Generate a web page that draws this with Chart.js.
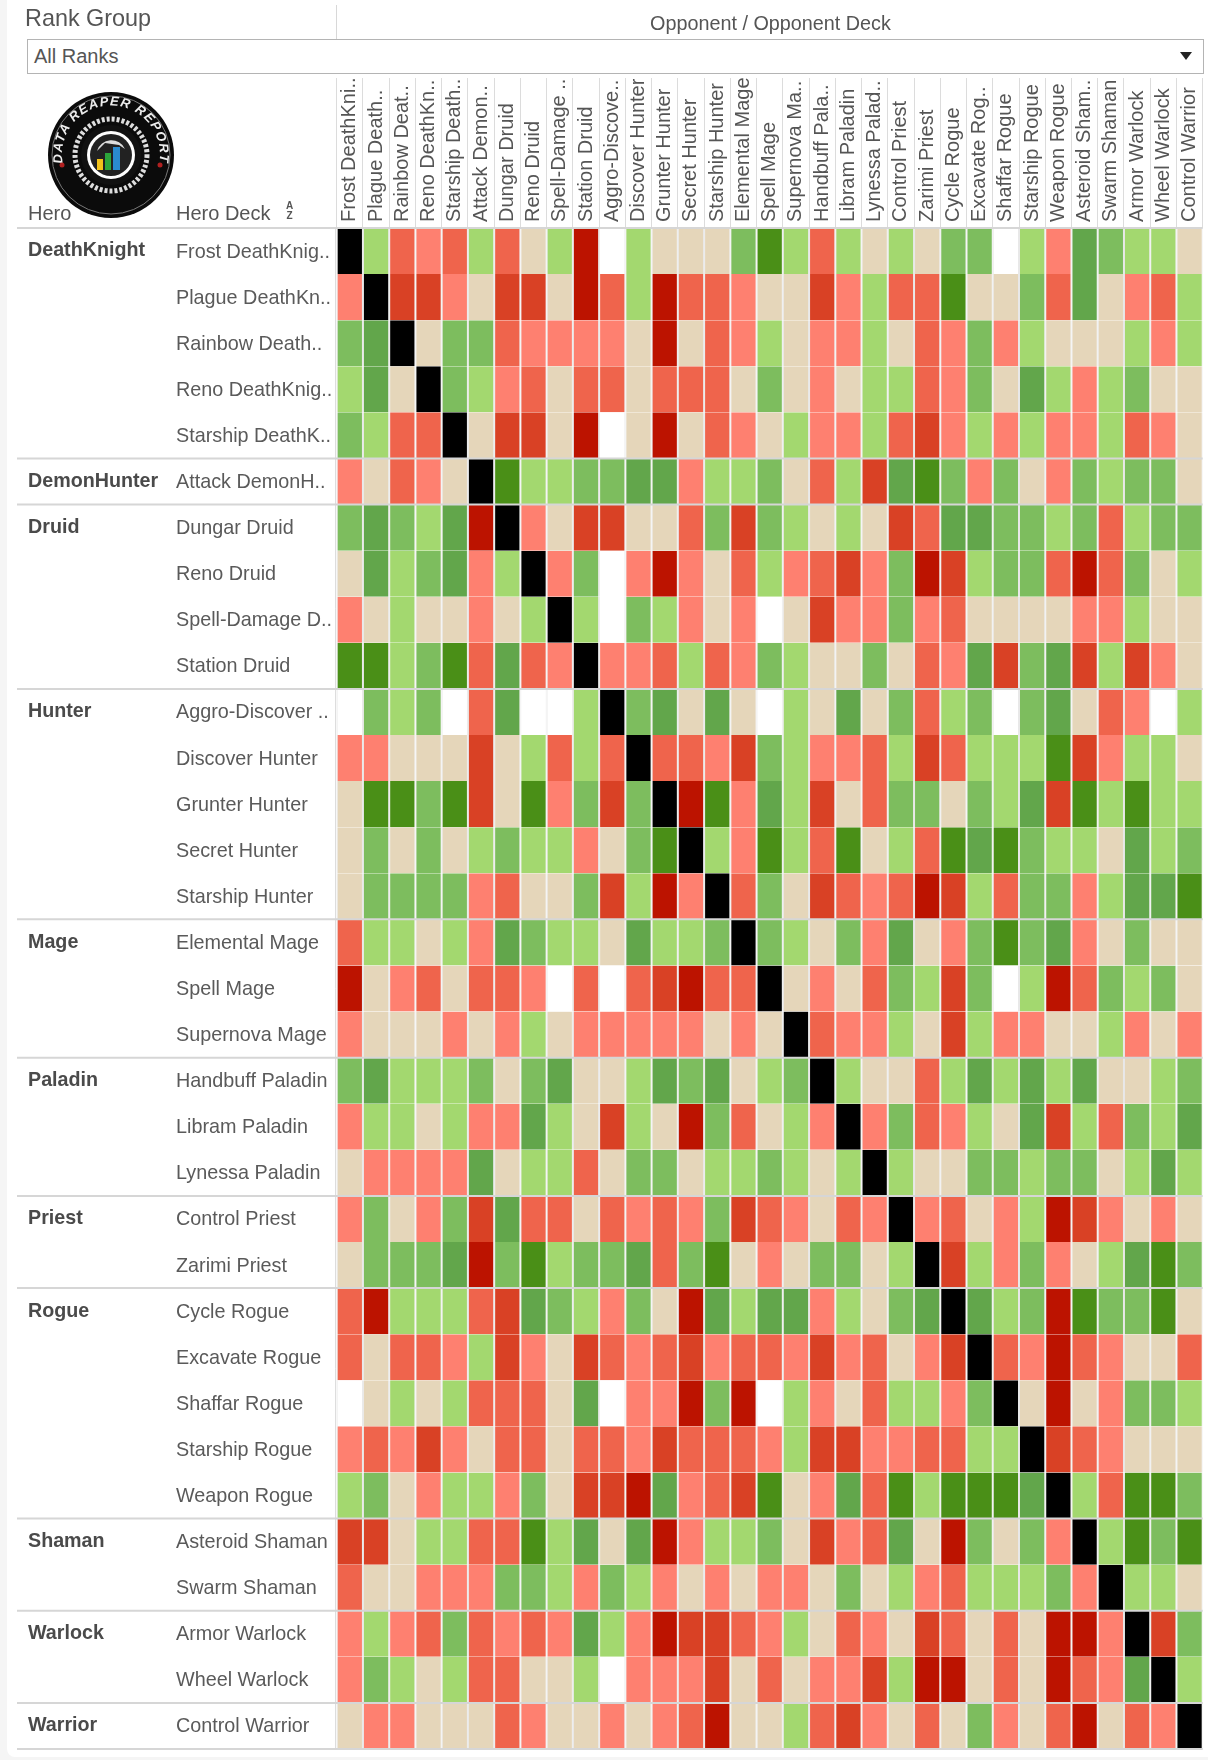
<!DOCTYPE html>
<html><head><meta charset="utf-8">
<style>
html,body{margin:0;padding:0;background:#f5f5f5;}
#card{position:absolute;left:7px;top:0;width:1201px;height:1757px;background:#fff;border-bottom-left-radius:8px;}
#c{position:absolute;left:0;top:0;}
.t{position:absolute;font-family:"Liberation Sans",Arial,sans-serif;color:#555;white-space:nowrap;}
#box{position:absolute;left:27px;top:39px;width:1175px;height:33px;border:1px solid #b4b4b4;background:#fff;box-sizing:content-box;}
#vline{position:absolute;left:336px;top:5px;width:1px;height:34px;background:#d8d8d8;}
#arrow{position:absolute;left:1180px;top:52px;width:0;height:0;border-left:6px solid transparent;border-right:6px solid transparent;border-top:8px solid #222;}
#logo{position:absolute;left:47px;top:91px;}
</style></head><body>
<div id="card"></div>
<canvas id="c" width="1208" height="1760"></canvas>
<div id="vline"></div>
<div class="t" style="left:25px;top:5px;font-size:23.4px;">Rank Group</div>
<div class="t" style="left:650px;top:12px;font-size:19.8px;">Opponent / Opponent Deck</div>
<div id="box"></div>
<div class="t" style="left:34px;top:45px;font-size:20px;">All Ranks</div>
<div id="arrow"></div>
<svg id="logo" width="128" height="128" viewBox="0 0 128 128">
  <defs><path id="arcTop" d="M 21 87 A 49 49 0 1 1 107 87"/></defs>
  <circle cx="64" cy="64" r="63" fill="#0b0b0b"/>
  <circle cx="64" cy="64" r="59" fill="none" stroke="#777" stroke-width="1"/>
  <text font-family="Liberation Sans" font-weight="bold" font-style="italic" font-size="13" fill="#eee" letter-spacing="1.2"><textPath href="#arcTop" startOffset="50%" text-anchor="middle">DATA REAPER REPORT</textPath></text>
  <circle cx="64" cy="64" r="36" fill="none" stroke="#ddd" stroke-width="5" stroke-dasharray="3 2"/>
  <circle cx="64" cy="64" r="30" fill="#111"/>
  <circle cx="64" cy="64" r="24" fill="#fff"/>
  <circle cx="64" cy="64" r="21" fill="#222"/>
  <path d="M 50 60 A 15 15 0 0 1 78 58 L 72 54 L 58 52 Z" fill="#ddd"/>
  <rect x="50" y="68" width="6" height="11" fill="#f2c21a"/>
  <rect x="58" y="62" width="6" height="17" fill="#2ca53a"/>
  <rect x="66" y="56" width="7" height="23" fill="#2a8bd0"/>
  <circle cx="15" cy="74" r="2.5" fill="#b02020"/><circle cx="113" cy="74" r="2.5" fill="#b02020"/>
</svg>
<div class="t" style="left:28px;top:202px;font-size:20px;">Hero</div>
<div class="t" style="left:176px;top:202px;font-size:20px;">Hero Deck</div>
<div class="t" style="left:286px;top:201px;font-size:10px;font-weight:bold;line-height:10px;text-align:center;">A<br>Z</div>
<script src="https://cdn.jsdelivr.net/npm/chart.js@4/dist/chart.umd.js"></script>
<script>
const opponentLabels = ["Frost DeathKni..","Plague Death..","Rainbow Deat..","Reno DeathKn..","Starship Death..","Attack Demon..","Dungar Druid","Reno Druid","Spell-Damage ..","Station Druid","Aggro-Discove..","Discover Hunter","Grunter Hunter","Secret Hunter","Starship Hunter","Elemental Mage","Spell Mage","Supernova Ma..","Handbuff Pala..","Libram Paladin","Lynessa Palad..","Control Priest","Zarimi Priest","Cycle Rogue","Excavate Rog..","Shaffar Rogue","Starship Rogue","Weapon Rogue","Asteroid Sham..","Swarm Shaman","Armor Warlock","Wheel Warlock","Control Warrior"];
const deckLabels = ["Frost DeathKnig..","Plague DeathKn..","Rainbow Death..","Reno DeathKnig..","Starship DeathK..","Attack DemonH..","Dungar Druid","Reno Druid","Spell-Damage D..","Station Druid","Aggro-Discover ..","Discover Hunter","Grunter Hunter","Secret Hunter","Starship Hunter","Elemental Mage","Spell Mage","Supernova Mage","Handbuff Paladin","Libram Paladin","Lynessa Paladin","Control Priest","Zarimi Priest","Cycle Rogue","Excavate Rogue","Shaffar Rogue","Starship Rogue","Weapon Rogue","Asteroid Shaman","Swarm Shaman","Armor Warlock","Wheel Warlock","Control Warrior"];
const heroLabels = ["DeathKnight","","","","","DemonHunter","Druid","","","","Hunter","","","","","Mage","","","Paladin","","","Priest","","Rogue","","","","","Shaman","","Warlock","","Warrior"];
// Matchup class per cell, row = hero deck, position = opponent deck.
// A..D favourable (strong to slight), E even, F..I unfavourable (slight to strong), X mirror, W no data.
const matchupRows = [
"XDGFGDGEDIWDEEECADGDEDECCWDFBCDDE",
"FXHHFEHHEIGDIGGFEEHFDGGAEECGBEFGD",
"CBXECCGFFFFEIEGFDEFFDEGFCFDEEEDFD",
"DBEXCDFGEGGEGGGECEFEDDGFCEBDFDCEE",
"CDGGXEHHEIWEIEGFEDFFDGHFDFDFFDGFE",
"FEGFEXADDCCBBFDDCEGDHBACFCEFCDCCE",
"CBCDBIXFEHHEEGCHCDEDEHGBBCCDCGDCC",
"EBDCBFDXFCWFIFEGDFGHFCIHDCCGIGCED",
"FEDEEFEDXDWCDFEFWEHFFCFGEEEEFFDEE",
"AADCAGBGFXFFGDGFCDEECEGFBHCBHDHFE",
"WCDCWGBWWDXCBEBEWDEBECGDCWCBEGFWD",
"FFEEEHEDGDGXGGFHCDFFGDHGDDDAHFDDE",
"EAACAHEAFCHCXIAFBDHEGCCECDBHADADD",
"ECECEDCDDFECAXDFADGAEDGABACDDEBDC",
"ECCCCFGEECHDIFXGCEHGFGIHDGCCFDBBA",
"GDDEDFBCDDEBDDCXCDECFBEFCACBFECEE",
"IEFGEGGFWGWGHIGGXEFEGCDHCWDIGCDCE",
"FEEEFEFDEFFFFFEFEXGFFDEHDFFEEDFEF",
"CBDDDCECBEEDBCBEDCXDEEGDBDBDBEEDC",
"FDDEDFFBDEHDEICGEDFXFCGFDEBHDGCDB",
"EFFFFBEDDGECCEDDCDEDXDEECCDCCEDBD",
"FCEFCHBGGEGFGFCHGFEGFXFGEFDIHFEFE",
"ECCCBICADCCBGCAEFECCEDXHDFCFEDBAC",
"GIDDDGHBCDFCEIBDBBFDECBXBDCIACCAE",
"GEGGFDHFEHGFGHFGGFHFGEFHXGFIGFEEG",
"WEDEDGGGEBWFFICIWDFEGDDFCXEIEFCCD",
"FGFHFEGGEGGFHGGGFDHHFFGGDDXHGFEEE",
"DCEFDDFCEHHIBFGHAEFBGADAAABXDGAAC",
"HHEDDGGADBEBIFDDCEHFGBEICECFXDACA",
"GEEFFFCCDFCDFEFEFFECEDFGDDDCFXDDE",
"FDFGCGFGFBDFIHHGFDEGFEHGEGEIIFXHC",
"FCDEDGGEEDWFFFHEGEFFHDIIEGEIGFBXD",
"EFFEEEGFEEFEFGIEEDGHFEGECFEGIEGFX"
];
const levelColors = {A:"#4a8f17",B:"#62a64b",C:"#7dbd5e",D:"#a3d86f",E:"#e5d6ba",F:"#fe8070",G:"#ef644c",H:"#d94125",I:"#bc1300",X:"#000000",W:"#ffffff"};
const groupStarts = [0,5,6,10,15,18,21,23,28,30,32,33];

const fontFamily = '"Liberation Sans", Arial, sans-serif';
const datasets = matchupRows.map((row,i)=>({
  label: deckLabels[i],
  data: opponentLabels.map(()=>1),
  backgroundColor: row.split('').map(c=>levelColors[c]),
  borderColor: '#e8e8e8',
  borderWidth: {left:1,right:1,top:0,bottom:0},
  borderSkipped: false,
  inflateAmount: 0,
  barPercentage: 1,
  categoryPercentage: 1,
  stack: 's'
}));

const separators = {
  id:'separators',
  afterDatasetsDraw(chart){
    const {ctx,scales:{y},chartArea:a} = chart;
    ctx.save();
    ctx.strokeStyle='#d6d6d6';
    ctx.lineWidth=2;
    groupStarts.forEach(g=>{
      const py=y.getPixelForValue(g);
      ctx.beginPath();ctx.moveTo(17,py);ctx.lineTo(a.right,py);ctx.stroke();
    });
    ctx.lineWidth=1;
    ctx.beginPath();ctx.moveTo(a.left-1,a.top);ctx.lineTo(a.left-1,a.bottom);ctx.stroke();
    ctx.restore();
  }
};
function noVerticalOverflow(s){s.paddingTop=0;s.paddingBottom=0;}

new Chart(document.getElementById('c'),{
  type:'bar',
  data:{labels:opponentLabels,datasets},
  plugins:[separators],
  options:{
    responsive:false,animation:false,
    layout:{padding:{left:28,right:5.3,top:0,bottom:11}},
    plugins:{legend:{display:false},tooltip:{enabled:false}},
    scales:{
      x:{type:'category',position:'top',offset:true,
         grid:{display:true,offset:true,drawOnChartArea:false,tickLength:150,color:'#dcdcdc',lineWidth:1},
         border:{display:false},
         ticks:{font:{family:fontFamily,size:20},color:'#555',minRotation:90,maxRotation:90,autoSkip:false,padding:-144,labelOffset:24},
         afterFit(s){s.height=228;}},
      y:{type:'linear',stacked:true,reverse:true,min:0,max:33,display:false},
      yHero:{type:'category',position:'left',labels:heroLabels,offset:true,weight:2,
         grid:{display:false},border:{display:false},
         ticks:{font:{family:fontFamily,size:19.7,weight:'bold'},color:'#4a4a4a',autoSkip:false,crossAlign:'far',labelOffset:0},
         afterFit(s){s.width=148;noVerticalOverflow(s);}},
      yDeck:{type:'category',position:'left',labels:deckLabels,offset:true,weight:1,
         grid:{display:false},border:{display:false},
         ticks:{font:{family:fontFamily,size:19.8},color:'#5a5a5a',autoSkip:false,crossAlign:'far',labelOffset:1},
         afterFit(s){s.width=160.7;noVerticalOverflow(s);}}
    }
  }
});
</script>
</body></html>
